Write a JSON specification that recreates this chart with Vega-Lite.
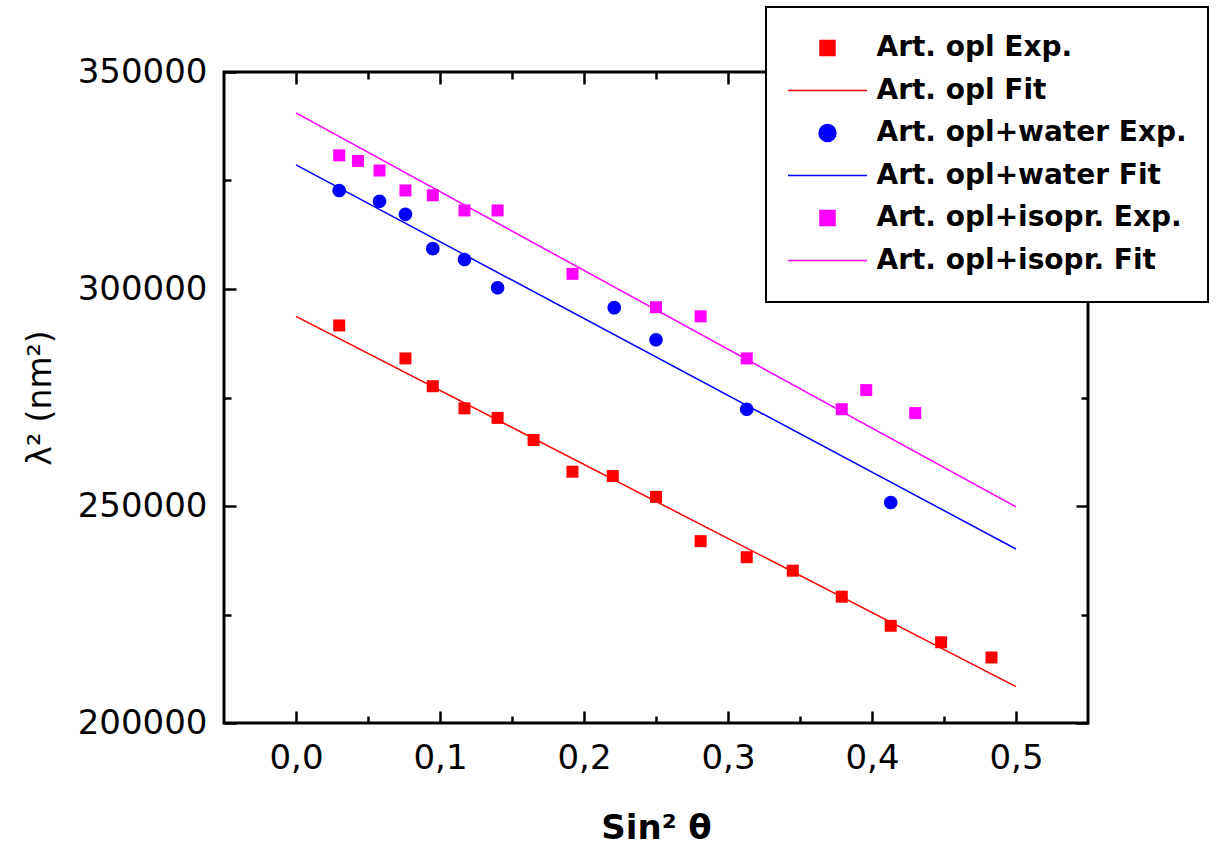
{
  "$schema": "https://vega.github.io/schema/vega-lite/v6.json",
  "width": 864,
  "height": 651,
  "autosize": {"type": "none"},
  "padding": {"left": 224, "top": 72, "right": 130, "bottom": 129},
  "background": "white",
  "config": {
    "view": {"stroke": "black", "strokeWidth": 3},
    "axis": {"grid": false, "domain": false, "tickColor": "black", "tickWidth": 2.5, "labelColor": "black", "titleColor": "black", "labelFont": "DejaVu Sans", "titleFont": "DejaVu Sans"}
  },
  "data": {
    "values": [
      {"series": "Art. opl Exp.", "x": 0.030, "y": 291600},
      {"series": "Art. opl Exp.", "x": 0.076, "y": 284000},
      {"series": "Art. opl Exp.", "x": 0.095, "y": 277600},
      {"series": "Art. opl Exp.", "x": 0.117, "y": 272500},
      {"series": "Art. opl Exp.", "x": 0.140, "y": 270300},
      {"series": "Art. opl Exp.", "x": 0.165, "y": 265200},
      {"series": "Art. opl Exp.", "x": 0.192, "y": 257900},
      {"series": "Art. opl Exp.", "x": 0.220, "y": 256900},
      {"series": "Art. opl Exp.", "x": 0.250, "y": 252100},
      {"series": "Art. opl Exp.", "x": 0.281, "y": 241900},
      {"series": "Art. opl Exp.", "x": 0.313, "y": 238200},
      {"series": "Art. opl Exp.", "x": 0.345, "y": 235100},
      {"series": "Art. opl Exp.", "x": 0.379, "y": 229100},
      {"series": "Art. opl Exp.", "x": 0.413, "y": 222400},
      {"series": "Art. opl Exp.", "x": 0.448, "y": 218600},
      {"series": "Art. opl Exp.", "x": 0.483, "y": 215100},
      {"series": "Art. opl Fit", "x": 0.0, "y": 293700},
      {"series": "Art. opl Fit", "x": 0.5, "y": 208400},
      {"series": "Art. opl+water Exp.", "x": 0.030, "y": 322700},
      {"series": "Art. opl+water Exp.", "x": 0.058, "y": 320200},
      {"series": "Art. opl+water Exp.", "x": 0.076, "y": 317200},
      {"series": "Art. opl+water Exp.", "x": 0.095, "y": 309300},
      {"series": "Art. opl+water Exp.", "x": 0.117, "y": 306800},
      {"series": "Art. opl+water Exp.", "x": 0.140, "y": 300300},
      {"series": "Art. opl+water Exp.", "x": 0.221, "y": 295700},
      {"series": "Art. opl+water Exp.", "x": 0.250, "y": 288300},
      {"series": "Art. opl+water Exp.", "x": 0.313, "y": 272300},
      {"series": "Art. opl+water Exp.", "x": 0.413, "y": 250800},
      {"series": "Art. opl+water Fit", "x": 0.0, "y": 328600},
      {"series": "Art. opl+water Fit", "x": 0.5, "y": 240100},
      {"series": "Art. opl+isopr. Exp.", "x": 0.030, "y": 330800},
      {"series": "Art. opl+isopr. Exp.", "x": 0.043, "y": 329500},
      {"series": "Art. opl+isopr. Exp.", "x": 0.058, "y": 327300},
      {"series": "Art. opl+isopr. Exp.", "x": 0.076, "y": 322700},
      {"series": "Art. opl+isopr. Exp.", "x": 0.095, "y": 321600},
      {"series": "Art. opl+isopr. Exp.", "x": 0.117, "y": 318100},
      {"series": "Art. opl+isopr. Exp.", "x": 0.140, "y": 318100},
      {"series": "Art. opl+isopr. Exp.", "x": 0.192, "y": 303500},
      {"series": "Art. opl+isopr. Exp.", "x": 0.250, "y": 295800},
      {"series": "Art. opl+isopr. Exp.", "x": 0.281, "y": 293700},
      {"series": "Art. opl+isopr. Exp.", "x": 0.313, "y": 284000},
      {"series": "Art. opl+isopr. Exp.", "x": 0.379, "y": 272300},
      {"series": "Art. opl+isopr. Exp.", "x": 0.396, "y": 276700},
      {"series": "Art. opl+isopr. Exp.", "x": 0.430, "y": 271400},
      {"series": "Art. opl+isopr. Fit", "x": 0.0, "y": 340600},
      {"series": "Art. opl+isopr. Fit", "x": 0.5, "y": 249800}
    ]
  },
  "resolve": {"axis": {"x": "independent", "y": "independent"}},
  "layer": [
    {
      "transform": [{"filter": "datum.series === 'Art. opl Fit'"}],
      "mark": {"type": "line", "strokeWidth": 1.5},
      "encoding": {
        "x": {"field": "x", "type": "quantitative", "scale": {"domain": [-0.05, 0.55], "nice": false, "zero": false},
          "axis": {"orient": "bottom", "values": [0, 0.1, 0.2, 0.3, 0.4, 0.5], "tickSize": 12, "offset": -12, "labelExpr": "replace(format(datum.value, '.1f'), '.', ',')", "labelFontSize": 34, "labelPadding": 18, "title": "Sin² θ", "titleFontSize": 34, "titleFontWeight": "bold", "titlePadding": 36}},
        "y": {"field": "y", "type": "quantitative", "scale": {"domain": [200000, 350000], "nice": false, "zero": false},
          "axis": {"orient": "left", "values": [200000, 250000, 300000, 350000], "tickSize": 12, "offset": -12, "format": "d", "labelFontSize": 34, "labelPadding": 17, "title": "λ² (nm²)", "titleFontSize": 33, "titleFontWeight": "normal", "titlePadding": 20}},
        "color": {"field": "series", "type": "nominal",
          "scale": {"domain": ["Art. opl Exp.", "Art. opl Fit", "Art. opl+water Exp.", "Art. opl+water Fit", "Art. opl+isopr. Exp.", "Art. opl+isopr. Fit"], "range": ["#ff0000", "#ff0000", "#0000ff", "#0000ff", "#ff00ff", "#ff00ff"]},
          "legend": {"orient": "none", "legendX": 542, "legendY": -65, "title": null, "direction": "vertical", "padding": 21, "clipHeight": 40, "rowPadding": 2.5, "labelOffset": 8.5, "symbolOffset": 0, "symbolSize": 6241, "symbolStrokeWidth": 1.5, "symbolOpacity": 1, "strokeColor": "black", "fillColor": "white", "labelFont": "DejaVu Sans", "labelFontSize": 28, "labelFontWeight": "bold", "labelColor": "black", "labelLimit": 600,
            "encode": {
              "legend": {"update": {"strokeWidth": {"value": 2}}},
              "symbols": {"update": {"fill": {"scale": "color", "field": "value"}, "stroke": {"scale": "color", "field": "value"}, "strokeWidth": {"value": 1.5}, "opacity": {"value": 1}}}
            }}}
      }
    },
    {
      "transform": [{"filter": "datum.series === 'Art. opl+water Fit'"}],
      "mark": {"type": "line", "strokeWidth": 1.5},
      "encoding": {
        "x": {"field": "x", "type": "quantitative", "scale": {"domain": [-0.05, 0.55], "nice": false, "zero": false},
          "axis": {"orient": "top", "values": [0, 0.1, 0.2, 0.3, 0.4, 0.5], "tickSize": 12, "offset": -12, "labels": false, "title": null}},
        "y": {"field": "y", "type": "quantitative", "scale": {"domain": [200000, 350000], "nice": false, "zero": false},
          "axis": {"orient": "right", "values": [200000, 250000, 300000, 350000], "tickSize": 12, "offset": -12, "labels": false, "title": null}},
        "color": {"field": "series", "type": "nominal"}
      }
    },
    {
      "transform": [{"filter": "datum.series === 'Art. opl+isopr. Fit'"}],
      "mark": {"type": "line", "strokeWidth": 1.5},
      "encoding": {
        "x": {"field": "x", "type": "quantitative", "scale": {"domain": [-0.05, 0.55], "nice": false, "zero": false},
          "axis": {"orient": "bottom", "values": [0.05, 0.15, 0.25, 0.35, 0.45], "tickSize": 7, "offset": -7, "labels": false, "title": null}},
        "y": {"field": "y", "type": "quantitative", "scale": {"domain": [200000, 350000], "nice": false, "zero": false},
          "axis": {"orient": "left", "values": [225000, 275000, 325000], "tickSize": 7, "offset": -7, "labels": false, "title": null}},
        "color": {"field": "series", "type": "nominal"}
      }
    },
    {
      "transform": [{"filter": "datum.series === 'Art. opl Exp.'"}],
      "mark": {"type": "point", "filled": true, "opacity": 1, "size": 3990, "strokeWidth": 0},
      "encoding": {
        "x": {"field": "x", "type": "quantitative", "scale": {"domain": [-0.05, 0.55], "nice": false, "zero": false},
          "axis": {"orient": "top", "values": [0.05, 0.15, 0.25, 0.35, 0.45], "tickSize": 7, "offset": -7, "labels": false, "title": null}},
        "y": {"field": "y", "type": "quantitative", "scale": {"domain": [200000, 350000], "nice": false, "zero": false},
          "axis": {"orient": "right", "values": [225000, 275000, 325000], "tickSize": 7, "offset": -7, "labels": false, "title": null}},
        "color": {"field": "series", "type": "nominal"},
        "shape": {"field": "series", "type": "nominal",
          "scale": {"domain": ["Art. opl Exp.", "Art. opl Fit", "Art. opl+water Exp.", "Art. opl+water Fit", "Art. opl+isopr. Exp.", "Art. opl+isopr. Fit"],
            "range": ["M-0.19,-0.19L0.19,-0.19L0.19,0.19L-0.19,0.19Z", "M-1,0L1,0", "M-0.215,0A0.215,0.215,0,1,1,0.215,0A0.215,0.215,0,1,1,-0.215,0Z", "M-1,0L1,0", "M-0.19,-0.19L0.19,-0.19L0.19,0.19L-0.19,0.19Z", "M-1,0L1,0"]}}
      }
    },
    {
      "transform": [{"filter": "datum.series === 'Art. opl+water Exp.'"}],
      "mark": {"type": "point", "filled": true, "opacity": 1, "size": 3990, "strokeWidth": 0},
      "encoding": {
        "x": {"field": "x", "type": "quantitative", "scale": {"domain": [-0.05, 0.55], "nice": false, "zero": false}, "axis": null},
        "y": {"field": "y", "type": "quantitative", "scale": {"domain": [200000, 350000], "nice": false, "zero": false}, "axis": null},
        "color": {"field": "series", "type": "nominal"},
        "shape": {"field": "series", "type": "nominal"}
      }
    },
    {
      "transform": [{"filter": "datum.series === 'Art. opl+isopr. Exp.'"}],
      "mark": {"type": "point", "filled": true, "opacity": 1, "size": 3990, "strokeWidth": 0},
      "encoding": {
        "x": {"field": "x", "type": "quantitative", "scale": {"domain": [-0.05, 0.55], "nice": false, "zero": false}, "axis": null},
        "y": {"field": "y", "type": "quantitative", "scale": {"domain": [200000, 350000], "nice": false, "zero": false}, "axis": null},
        "color": {"field": "series", "type": "nominal"},
        "shape": {"field": "series", "type": "nominal"}
      }
    }
  ]
}
